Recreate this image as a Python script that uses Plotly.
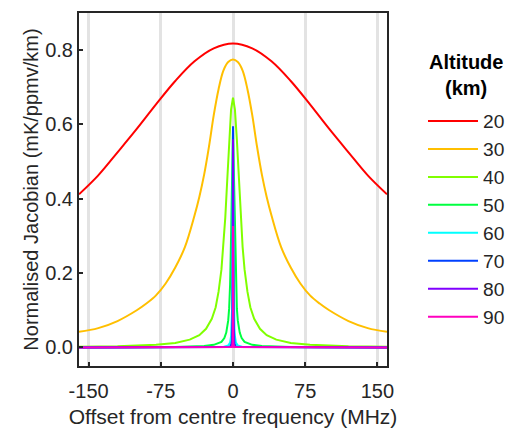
import plotly.graph_objects as go

# ---- data ----
altitudes = ["20", "30", "40", "50", "60", "70", "80", "90"]
colors = ["#FF0000", "#FFBF00", "#80FF00", "#00FF40", "#00FFFF", "#0040FF", "#8000FF", "#FF00BF"]

x_20 = [-160, -140, -120, -100, -80, -60, -40, -20, 0, 20, 40, 60, 80, 100, 120, 140, 160]
y_20 = [0.412, 0.463, 0.525, 0.588, 0.654, 0.717, 0.770, 0.805, 0.818, 0.805, 0.770, 0.717, 0.654, 0.588, 0.525, 0.463, 0.412]

x_30 = [-160, -140, -120, -100, -90, -80, -70, -60, -50, -40, -35, -30, -25, -20, -15, -10, -5, 0,
        5, 10, 15, 20, 25, 30, 35, 40, 50, 60, 70, 80, 90, 100, 120, 140, 160]
y_30 = [0.042, 0.052, 0.071, 0.100, 0.118, 0.140, 0.172, 0.215, 0.270, 0.355, 0.405, 0.465, 0.540, 0.625, 0.695, 0.745, 0.768, 0.775,
        0.768, 0.745, 0.695, 0.625, 0.540, 0.465, 0.405, 0.355, 0.270, 0.215, 0.172, 0.140, 0.118, 0.100, 0.071, 0.052, 0.042]

x_40 = [-160, -120, -80, -60, -45, -35, -28, -22, -18, -15, -12, -10, -8, -6, -4, -2, 0,
        2, 4, 6, 8, 10, 12, 15, 18, 22, 28, 35, 45, 60, 80, 120, 160]
y_40 = [0.002, 0.003, 0.007, 0.012, 0.021, 0.033, 0.050, 0.077, 0.108, 0.150, 0.210, 0.270, 0.350, 0.450, 0.560, 0.640, 0.672,
        0.640, 0.560, 0.450, 0.350, 0.270, 0.210, 0.150, 0.108, 0.077, 0.050, 0.033, 0.021, 0.012, 0.007, 0.003, 0.002]

x_50 = [-160, -60, -30, -20, -12, -9, -7, -5, -4, -3, -2, -1, 0, 1, 2, 3, 4, 5, 7, 9, 12, 20, 30, 60, 160]
y_50 = [0.000, 0.001, 0.004, 0.007, 0.015, 0.025, 0.040, 0.072, 0.105, 0.170, 0.300, 0.460, 0.590,
        0.460, 0.300, 0.170, 0.105, 0.072, 0.040, 0.025, 0.015, 0.007, 0.004, 0.001, 0.000]

x_60 = [-160, -10, -5, -3, -2, -1.5, -1, -0.5, 0, 0.5, 1, 1.5, 2, 3, 5, 10, 160]
y_60 = [0.000, 0.001, 0.005, 0.013, 0.030, 0.050, 0.100, 0.300, 0.590, 0.300, 0.100, 0.050, 0.030, 0.013, 0.005, 0.001, 0.000]

x_70 = [-160, -3, -1.5, -1, -0.5, -0.25, 0, 0.25, 0.5, 1, 1.5, 3, 160]
y_70 = [0.000, 0.002, 0.010, 0.020, 0.080, 0.250, 0.595, 0.250, 0.080, 0.020, 0.010, 0.002, 0.000]

x_80 = [-160, -2, -1, -0.5, -0.2, 0, 0.2, 0.5, 1, 2, 160]
y_80 = [0.000, 0.001, 0.005, 0.020, 0.100, 0.560, 0.100, 0.020, 0.005, 0.001, 0.000]

x_90 = [-160, -1, -0.3, -0.1, 0, 0.1, 0.3, 1, 160]
y_90 = [0.000, 0.001, 0.010, 0.050, 0.327, 0.050, 0.010, 0.001, 0.000]

x_ticks = [-150, -75, 0, 75, 150]
x_tick_labels = ["-150", "-75", "0", "75", "150"]
y_ticks = [0.0, 0.2, 0.4, 0.6, 0.8]
y_tick_labels = ["0.0", "0.2", "0.4", "0.6", "0.8"]

legend_title = ["Altitude", "(km)"]

xs = [x_20, x_30, x_40, x_50, x_60, x_70, x_80, x_90]
ys = [y_20, y_30, y_40, y_50, y_60, y_70, y_80, y_90]

TXT = "#262626"
FONT = "Liberation Sans, Arial, sans-serif"
W, H = 508, 430

fig = go.Figure()
for i, (alt, col) in enumerate(zip(altitudes, colors)):
    fig.add_trace(go.Scatter(
        x=xs[i], y=ys[i], mode="lines", name=alt,
        line=dict(color=col, width=2, shape="spline" if i < 2 else "linear"),
    ))

axis_common = dict(
    showline=True, linecolor=TXT, linewidth=2, mirror=True,
    ticks="inside", ticklen=4, tickwidth=2, tickcolor=TXT,
    tickfont=dict(size=20, color=TXT, family=FONT),
    zeroline=False,
)

fig.update_layout(
    width=W, height=H,
    margin=dict(l=79, r=121, t=13, b=64, autoexpand=False),
    paper_bgcolor="white", plot_bgcolor="white",
    font=dict(family=FONT, color=TXT, size=20),
    xaxis=dict(
        range=[-160, 160], tickvals=x_ticks, ticktext=x_tick_labels,
        showgrid=True, gridcolor="#e3e3e3", gridwidth=2.5,
        ticklabelstandoff=6,
        title=dict(text="Offset from centre frequency (MHz)", font=dict(size=21, color=TXT), standoff=8),
        **axis_common,
    ),
    yaxis=dict(
        range=[-0.05, 0.9], tickvals=y_ticks, ticktext=y_tick_labels,
        showgrid=False,
        title=dict(text="Normalised Jacobian (mK/ppmv/km)", font=dict(size=20, color=TXT), standoff=1),
        **axis_common,
    ),
    legend=dict(
        xref="container", yref="container",
        x=423 / W, xanchor="left", y=1 - 102 / H, yanchor="top",
        font=dict(size=19.2, color=TXT), itemwidth=50,
        maxheight=320,
        bgcolor="rgba(0,0,0,0)", borderwidth=0,
    ),
    showlegend=True,
)

for k, line in enumerate(legend_title):
    fig.add_annotation(
        xref="paper", yref="paper",
        x=(466 - 79) / (W - 79 - 121), y=1 - (62 + 26.5 * k - 13) / (H - 13 - 64),
        text=f"<b>{line}</b>", showarrow=False, xanchor="center", yanchor="middle",
        font=dict(size=20, color="#000000", family=FONT),
    )

fig.write_html("out.html")
